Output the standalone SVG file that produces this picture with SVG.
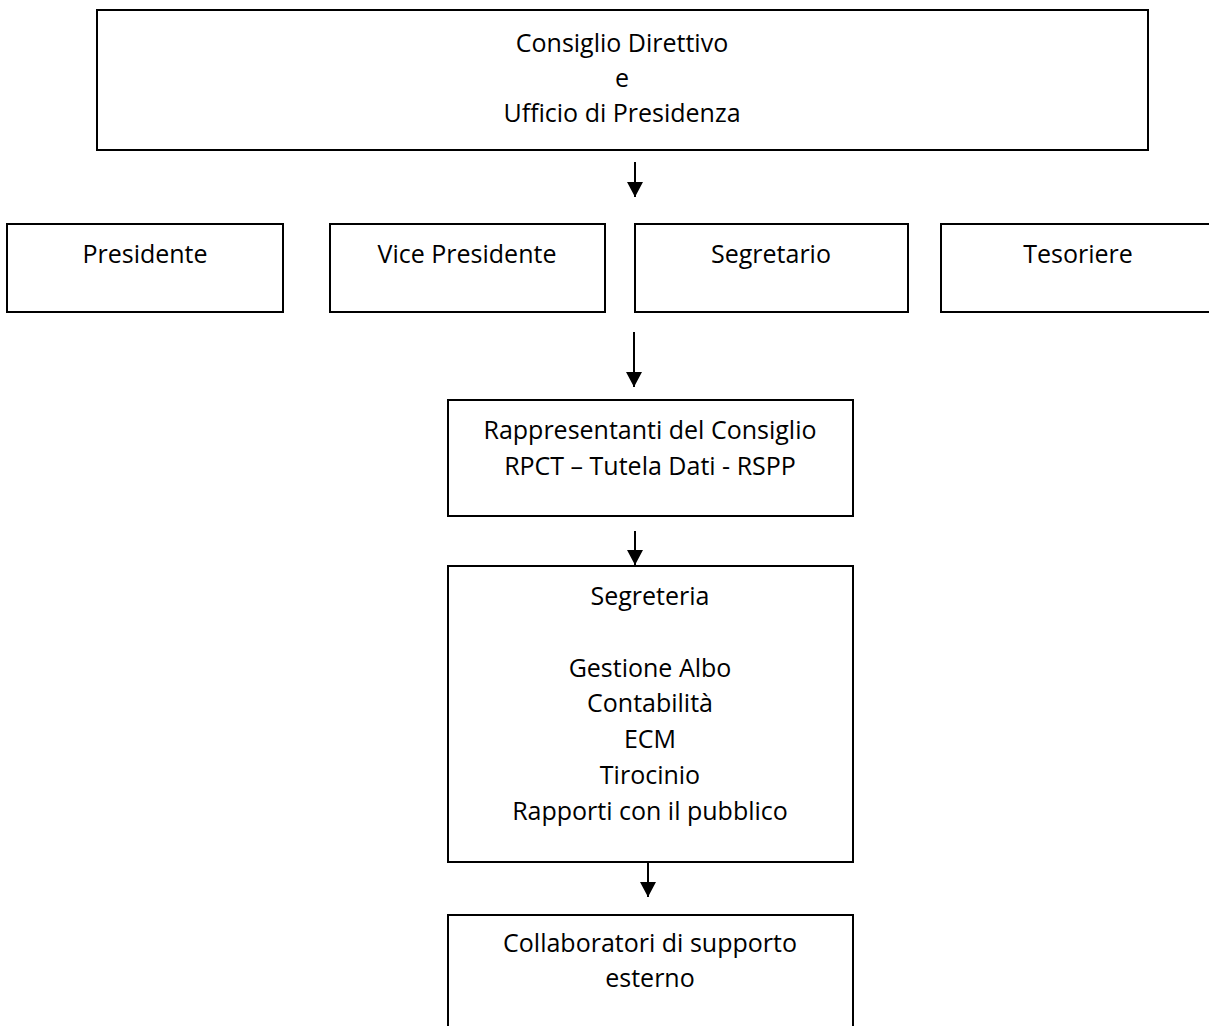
<svg xmlns="http://www.w3.org/2000/svg" width="1209" height="1026" viewBox="0 0 1209 1026">
<style>
.box{fill:#fff;stroke:#000;stroke-width:2}
.t{font-family:"Open Sans","Liberation Sans",sans-serif;font-size:25px;fill:#000;text-anchor:middle}
.c{stroke:#000;stroke-width:2;fill:none}
</style>
<defs>
<marker id="ah" markerUnits="userSpaceOnUse" markerWidth="16" markerHeight="16" viewBox="0 0 16 16" refX="8" refY="15" orient="0">
<path d="M0,0 L16,0 L8,15 Z" fill="#000"/>
</marker>
</defs>
<rect width="1209" height="1026" fill="#fff"/>
<g id="consiglio">
<rect class="box" x="97" y="10" width="1051" height="140"/>
<text class="t" x="622" y="52">Consiglio Direttivo</text>
<text class="t" x="622" y="87">e</text>
<text class="t" x="622" y="122">Ufficio di Presidenza</text>
</g>
<g id="presidente">
<rect class="box" x="7" y="224" width="276" height="88"/>
<text class="t" x="145" y="263">Presidente</text>
</g>
<g id="vicepresidente">
<rect class="box" x="330" y="224" width="275" height="88"/>
<text class="t" x="467" y="263">Vice Presidente</text>
</g>
<g id="segretario">
<rect class="box" x="635" y="224" width="273" height="88"/>
<text class="t" x="771" y="263">Segretario</text>
</g>
<g id="tesoriere">
<rect class="box" x="941" y="224" width="274" height="88"/>
<text class="t" x="1078" y="263">Tesoriere</text>
</g>
<g id="rappresentanti">
<rect class="box" x="448" y="400" width="405" height="116"/>
<text class="t" x="650" y="439">Rappresentanti del Consiglio</text>
<text class="t" x="650" y="475">RPCT – Tutela Dati - RSPP</text>
</g>
<g id="segreteria">
<rect class="box" x="448" y="566" width="405" height="296"/>
<text class="t" x="650" y="605">Segreteria</text>
<text class="t" x="650" y="677">Gestione Albo</text>
<text class="t" x="650" y="712">Contabilità</text>
<text class="t" x="650" y="748">ECM</text>
<text class="t" x="650" y="784">Tirocinio</text>
<text class="t" x="650" y="820">Rapporti con il pubblico</text>
</g>
<g id="collaboratori">
<rect class="box" x="448" y="915" width="405" height="130"/>
<text class="t" x="650" y="952">Collaboratori di supporto</text>
<text class="t" x="650" y="987">esterno</text>
</g>
<g id="connectors">
<line class="c" x1="635" y1="162" x2="635" y2="197" marker-end="url(#ah)"/>
<line class="c" x1="634" y1="332" x2="634" y2="387" marker-end="url(#ah)"/>
<line class="c" x1="635" y1="531" x2="635" y2="565" marker-end="url(#ah)"/>
<line class="c" x1="648" y1="863" x2="648" y2="897" marker-end="url(#ah)"/>
</g>
</svg>
